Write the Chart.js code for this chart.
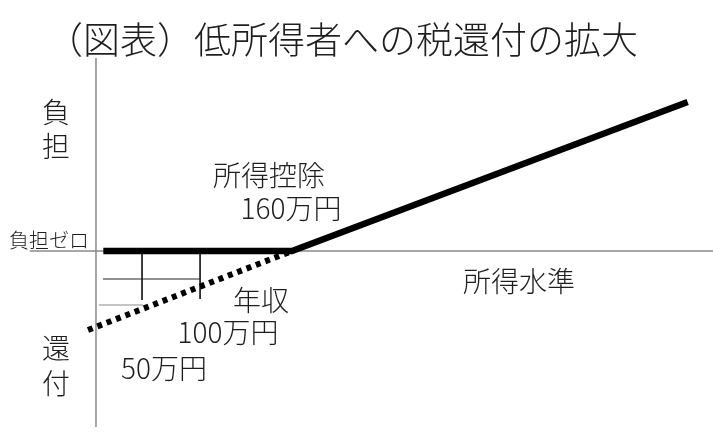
<!DOCTYPE html>
<html>
<head>
<meta charset="utf-8">
<script src="https://cdn.jsdelivr.net/npm/chart.js@4/dist/chart.umd.min.js"></script>
<style>
  html, body { margin: 0; padding: 0; background: #fff; }
  #wrap { width: 713px; height: 439px; }
</style>
</head>
<body>
<div id="wrap"><canvas id="myChart"></canvas></div>
<script>
// schematic income level (160 = 所得控除160万円) and tax burden (+ burden / - refund)
var burdenX = [6, 160, 483];
var burdenY = [0, 0, 149];
var refundX = [-6.5, 160];
var refundY = [-79, 0];
// helper guides for 年収50万円 / 100万円
var guide50X = [37.6, 37.6];
var guide50Y = [0, -49];
var guide100X = [85, 85];
var guide100Y = [0, -48];
var guideH1X = [5.7, 85];
var guideH1Y = [-28, -28];
var guideH2X = [2.4, 38.4];
var guideH2Y = [-54, -54];
// axis lines
var axisHX = [-54, 504];
var axisHY = [0, 0];
var axisVX = [0, 0];
var axisVY = [-176, 193];

function pts(xs, ys) {
  return xs.map(function (x, i) { return { x: x, y: ys[i] }; });
}

var JP = '"Noto Sans CJK JP", "Noto Sans", sans-serif';
var textColor = '#1e1e1e';

// text labels drawn on the canvas
var textLabels = [
  { t: '負', x: 56, y: 112, s: 28 },
  { t: '担', x: 56, y: 146, s: 28 },
  { t: '還', x: 56, y: 348, s: 28 },
  { t: '付', x: 56, y: 383, s: 28 },
  { t: '負担ゼロ', x: 49, y: 240, s: 20 },
  { t: '所得控除', x: 269, y: 175, s: 28 },
  { t: '160万円', x: 291, y: 208, s: 28 },
  { t: '所得水準', x: 519, y: 281, s: 28 },
  { t: '年収', x: 261, y: 300, s: 28 },
  { t: '100万円', x: 228, y: 332, s: 28 },
  { t: '50万円', x: 164, y: 368, s: 28 }
];

var labelPlugin = {
  id: 'labels',
  afterDraw: function (chart) {
    var c = chart.ctx;
    c.save();
    c.fillStyle = textColor;
    c.textAlign = 'center';
    c.textBaseline = 'middle';
    textLabels.forEach(function (l) {
      c.font = '300 ' + l.s + 'px ' + JP;
      c.fillText(l.t, l.x, l.y);
    });
    c.restore();
  }
};

function line(xs, ys, color, width, extra) {
  var d = {
    data: pts(xs, ys),
    showLine: true,
    borderColor: color,
    borderWidth: width,
    pointRadius: 0,
    fill: false,
    clip: false
  };
  for (var k in extra) d[k] = extra[k];
  return d;
}

// first dataset is drawn on top
var ctx = document.getElementById('myChart').getContext('2d');
var myChart = new Chart(ctx, {
  type: 'scatter',
  data: {
    datasets: [
      line(burdenX, burdenY, '#000', 6.5, { borderJoinStyle: 'miter' }),
      line(refundX, refundY, '#000', 6, { borderDash: [5, 5], borderCapStyle: 'butt' }),
      line(guide50X, guide50Y, '#222', 1),
      line(guide100X, guide100Y, '#222', 1),
      line(guideH1X, guideH1Y, '#222', 1),
      line(guideH2X, guideH2Y, '#8a8a8a', 1),
      line(axisHX, axisHY, '#8a8a8a', 1.5),
      line(axisVX, axisVY, '#8a8a8a', 1.5)
    ]
  },
  options: {
    responsive: true,
    maintainAspectRatio: false,
    animation: false,
    layout: { padding: { left: 46, right: 0, top: 0, bottom: 0 } },
    plugins: {
      legend: { display: false },
      tooltip: { enabled: false },
      title: {
        display: true,
        text: '（図表）低所得者への税還付の拡大',
        align: 'start',
        color: textColor,
        padding: { top: 21, bottom: 0 },
        font: { family: JP, size: 37, weight: '300', lineHeight: 1 }
      }
    },
    scales: {
      x: { type: 'linear', display: false, min: -40.8, max: 503.7 },
      y: { type: 'linear', display: false, min: -188, max: 193 }
    }
  },
  plugins: [labelPlugin]
});
</script>
</body>
</html>
